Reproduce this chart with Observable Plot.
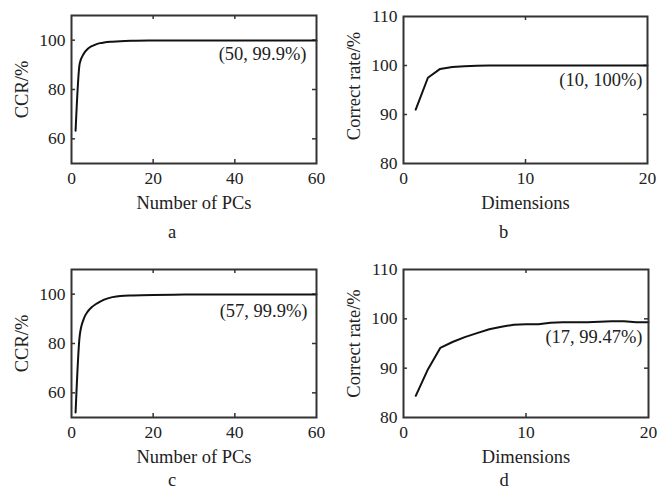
<!DOCTYPE html>
<html>
<head>
<meta charset="utf-8">
<script src="https://cdn.jsdelivr.net/npm/d3@7"></script>
<script src="https://cdn.jsdelivr.net/npm/@observablehq/plot@0.6"></script>
<style>
  html, body { margin: 0; padding: 0; background: #fff; }
  #fig { position: relative; width: 659px; height: 493px; overflow: hidden; background: #fff; }
  #fig > svg { position: absolute; }
</style>
</head>
<body>
<div id="fig"></div>
<script>
// Panel a: CCR vs number of PCs
const pcsA = [1, 2, 3, 4, 5, 6, 7, 8, 10, 12, 15, 20, 25, 30, 40, 50, 60];
const ccrA = [63.3, 90.5, 94.5, 96.5, 97.6, 98.3, 98.8, 99.1, 99.4, 99.6, 99.75, 99.85, 99.9, 99.9, 99.9, 99.9, 99.9];
// Panel b: correct rate vs dimensions
const dimsB = [1, 2, 3, 4, 5, 6, 7, 8, 9, 10, 11, 12, 13, 14, 15, 16, 17, 18, 19, 20];
const rateB = [91, 97.5, 99.3, 99.7, 99.85, 99.95, 100, 100, 100, 100, 100, 100, 100, 100, 100, 100, 100, 100, 100, 100];
// Panel c: CCR vs number of PCs
const pcsC = [1, 2, 3, 4, 5, 6, 7, 8, 10, 12, 15, 20, 25, 30, 40, 50, 60];
const ccrC = [52, 83, 90, 93, 94.8, 96, 97, 97.8, 98.8, 99.3, 99.5, 99.7, 99.8, 99.85, 99.9, 99.9, 99.9];
// Panel d: correct rate vs dimensions
const dimsD = [1, 2, 3, 4, 5, 6, 7, 8, 9, 10, 11, 12, 13, 14, 15, 16, 17, 18, 19, 20];
const rateD = [84.4, 89.8, 94.1, 95.3, 96.3, 97.1, 97.9, 98.4, 98.8, 98.9, 98.9, 99.2, 99.3, 99.3, 99.3, 99.4, 99.5, 99.5, 99.3, 99.3];

// Axis ticks / labels
const xTicksPC = [0, 20, 40, 60];
const yTicksCCR = [60, 80, 100];
const xTicksDim = [0, 10, 20];
const yTicksRate = [80, 90, 100, 110];
const annotA = "(50, 99.9%)";
const annotB = "(10, 100%)";
const annotC = "(57, 99.9%)";
const annotD = "(17, 99.47%)";
const letters = ["a", "b", "c", "d"];
const xTitles = ["Number of PCs", "Dimensions"];
const yTitles = ["CCR/%", "Correct rate/%"];

const FONT = "'Liberation Serif', 'Times New Roman', serif";
const INK = "#222";

function panel(cfg) {
  const data = cfg.xs.map((x, i) => ({x, y: cfg.ys[i]}));
  const fw = cfg.w - cfg.ml - cfg.mr;
  const fh = cfg.h - cfg.mt - cfg.mb;
  const T = 4; // inward tick length
  const innerX = cfg.xTicks.slice(1, -1);
  const innerY = cfg.yTicks.filter(v => v > cfg.yDomain[0] && v < cfg.yDomain[1]);
  const svg = Plot.plot({
    width: cfg.w,
    height: cfg.h,
    marginLeft: cfg.ml,
    marginRight: cfg.mr,
    marginTop: cfg.mt,
    marginBottom: cfg.mb,
    style: {fontFamily: FONT, fontSize: "17px", color: INK, background: "transparent", overflow: "visible"},
    x: {domain: cfg.xDomain},
    y: {domain: cfg.yDomain},
    marks: [
      Plot.axisX(cfg.xTicks, {tickSize: 0, tickPadding: 8, fontSize: 17.5, label: null, fill: INK}),
      Plot.axisY(cfg.yTicks, {tickSize: 0, tickPadding: 6, fontSize: 17.5, label: null, fill: INK}),
      // inward ticks
      Plot.ruleX(innerX, {x: d => d, insetTop: fh - T, stroke: "#333", strokeWidth: 1.5}),
      Plot.ruleX(innerX, {x: d => d, insetBottom: fh - T, stroke: "#333", strokeWidth: 1.5}),
      Plot.ruleY(innerY, {y: d => d, insetRight: fw - T, stroke: "#333", strokeWidth: 1.5}),
      Plot.ruleY(innerY, {y: d => d, insetLeft: fw - T, stroke: "#333", strokeWidth: 1.5}),
      Plot.line(data, {x: "x", y: "y", stroke: "#111", strokeWidth: 2, curve: cfg.curve || "linear"}),
      Plot.frame({stroke: "#333", strokeWidth: 2}),
      Plot.text([cfg.annot], {text: d => d, frameAnchor: "top-right", textAnchor: "end", lineAnchor: "middle", dx: cfg.adx, dy: cfg.ady, fontSize: 18.5, fill: INK}),
      Plot.text([cfg.xTitle], {text: d => d, frameAnchor: "bottom", textAnchor: "middle", lineAnchor: "middle", dy: 40, fontSize: 18.5, fill: INK}),
      Plot.text([cfg.yTitle], {text: d => d, frameAnchor: "left", textAnchor: "middle", lineAnchor: "middle", rotate: -90, dx: -49, dy: cfg.ydy || 0, fontSize: 18.5, fill: INK}),
      Plot.text([cfg.letter], {text: d => d, frameAnchor: "bottom", textAnchor: "middle", lineAnchor: "middle", dx: -22, dy: cfg.ldy, fontSize: 18.5, fill: INK})
    ]
  });
  svg.style.left = cfg.left + "px";
  svg.style.top = cfg.top + "px";
  return svg;
}

const fig = document.getElementById("fig");
fig.appendChild(panel({
  left: 0, top: 0, w: 330, h: 246, ml: 71, mr: 14, mt: 15, mb: 83,
  xs: pcsA, ys: ccrA, xDomain: [0, 60], yDomain: [50, 110],
  xTicks: xTicksPC, yTicks: yTicksCCR, curve: "monotone-x",
  annot: annotA, adx: -10, ady: 39, xTitle: xTitles[0], yTitle: yTitles[0], letter: letters[0], ldy: 68.5
}));
fig.appendChild(panel({
  left: 329, top: 0, w: 330, h: 246, ml: 74, mr: 12, mt: 16, mb: 83,
  xs: dimsB, ys: rateB, xDomain: [0, 20], yDomain: [80, 110],
  xTicks: xTicksDim, yTicks: yTicksRate,
  annot: annotB, adx: -5, ady: 64, xTitle: xTitles[1], yTitle: yTitles[1], letter: letters[1], ydy: -4, ldy: 68.5
}));
fig.appendChild(panel({
  left: 0, top: 246, w: 330, h: 247, ml: 71, mr: 14, mt: 23, mb: 76,
  xs: pcsC, ys: ccrC, xDomain: [0, 60], yDomain: [50, 110],
  xTicks: xTicksPC, yTicks: yTicksCCR, curve: "monotone-x",
  annot: annotC, adx: -9, ady: 42, xTitle: xTitles[0], yTitle: yTitles[0], letter: letters[2], ldy: 63
}));
fig.appendChild(panel({
  left: 329, top: 246, w: 330, h: 247, ml: 74, mr: 11, mt: 23, mb: 76,
  xs: dimsD, ys: rateD, xDomain: [0, 20], yDomain: [80, 110],
  xTicks: xTicksDim, yTicks: yTicksRate,
  annot: annotD, adx: -6, ady: 68, xTitle: xTitles[1], yTitle: yTitles[1], letter: letters[3], ldy: 63
}));
</script>
</body>
</html>
